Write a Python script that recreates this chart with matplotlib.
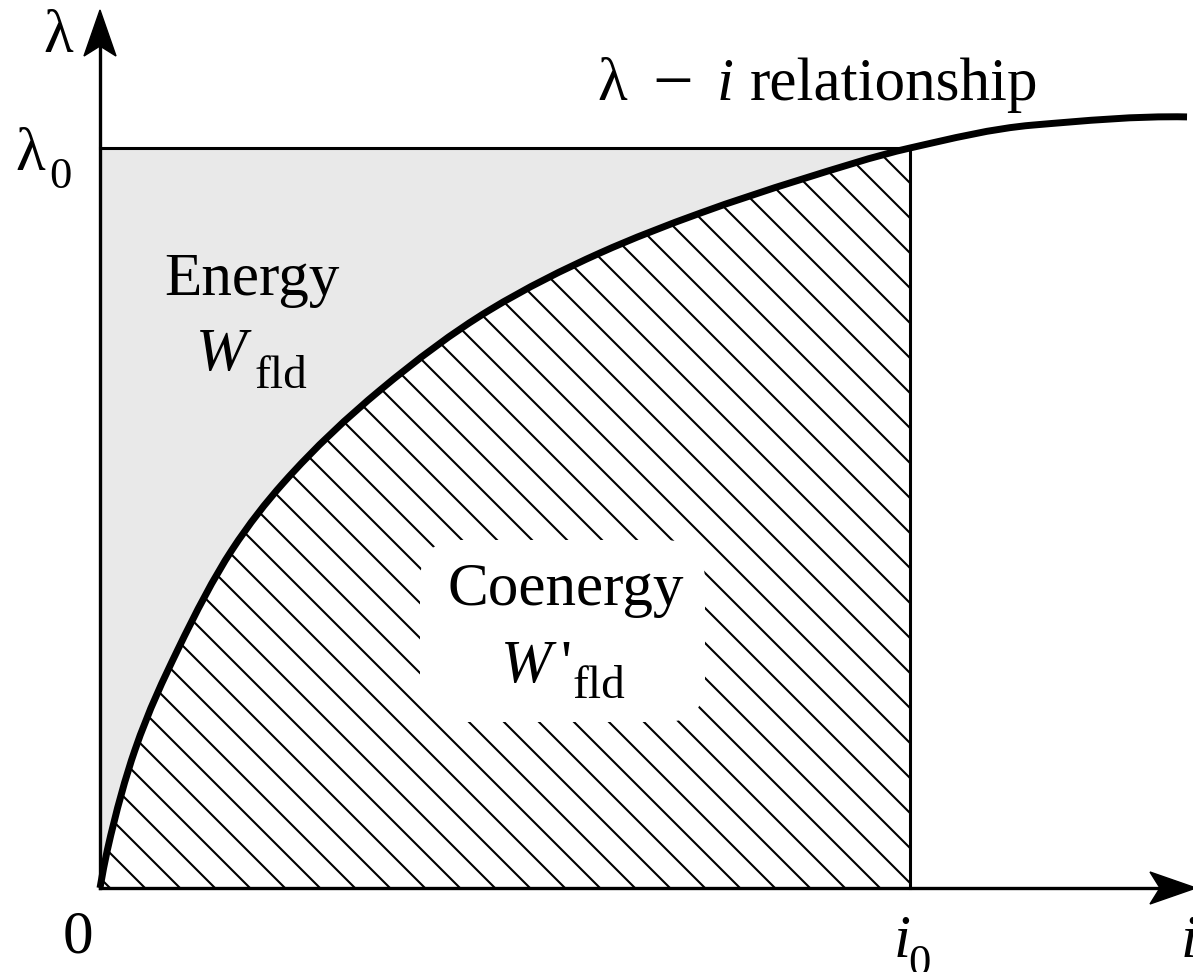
import numpy as np
import matplotlib
matplotlib.use("Agg")
import matplotlib.pyplot as plt
from matplotlib.path import Path
from matplotlib.patches import PathPatch, FancyBboxPatch, Polygon

plt.rcParams["font.family"] = ["Liberation Serif", "DejaVu Serif"]
plt.rcParams["mathtext.fontset"] = "custom"
plt.rcParams["mathtext.rm"] = "Liberation Serif"
plt.rcParams["mathtext.it"] = "Liberation Serif:italic"
plt.rcParams["mathtext.bf"] = "Liberation Serif:bold"

# lambda-i magnetisation curve (i normalised to i0, lambda normalised to lambda0)
curve_i = [0.0, 0.009, 0.043, 0.096, 0.163, 0.226, 0.346, 0.481, 0.617, 0.741, 0.864, 1.0, 1.152, 1.342]
curve_lam = [0.0, 0.051, 0.186, 0.322, 0.457, 0.547, 0.673, 0.781, 0.858, 0.912, 0.957, 1.0, 1.031, 1.042]
i0 = 1.0
lam0 = 1.0

FS = 44      # main text size
FS_SUB = 34  # subscript size

W, H = 1193, 972
X0, Y0 = 100, 888          # origin in pixels
SX, SY = 810.0, 740.0      # pixels per unit of i and lambda

fig = plt.figure(figsize=(W / 100, H / 100), dpi=100)
ax = fig.add_axes([0, 0, 1, 1])
ax.set_xlim(-X0 / SX, (W - X0) / SX)
ax.set_ylim(-(H - Y0) / SY, Y0 / SY)
ax.axis("off")


def px(x, y):
    """Pixel position (from top-left) to data coordinates."""
    return (x - X0) / SX, (Y0 - y) / SY


def smooth_path(xs, ys):
    """Monotone (PCHIP-style) Hermite curve through the points, as Bezier segments."""
    x = np.asarray(xs, float)
    y = np.asarray(ys, float)
    h = np.diff(x)
    d = np.diff(y) / h
    n = len(x)
    m = np.zeros(n)
    for k in range(1, n - 1):
        if d[k - 1] * d[k] <= 0:
            m[k] = 0.0
        else:
            w1 = 2 * h[k] + h[k - 1]
            w2 = h[k] + 2 * h[k - 1]
            m[k] = (w1 + w2) / (w1 / d[k - 1] + w2 / d[k])
    m[0] = ((2 * h[0] + h[1]) * d[0] - h[0] * d[1]) / (h[0] + h[1])
    m[-1] = ((2 * h[-1] + h[-2]) * d[-1] - h[-1] * d[-2]) / (h[-1] + h[-2])
    verts = [(x[0], y[0])]
    codes = [Path.MOVETO]
    for k in range(n - 1):
        t = h[k] / 3.0
        verts += [(x[k] + t, y[k] + m[k] * t),
                  (x[k + 1] - t, y[k + 1] - m[k + 1] * t),
                  (x[k + 1], y[k + 1])]
        codes += [Path.CURVE4] * 3
    return np.array(verts), codes


ci = np.array(curve_i)
cl = np.array(curve_lam)
k0 = int(np.argmin(np.abs(ci - i0)))

# energy region: between curve and the lambda0 line
v_up, c_up = smooth_path(ci[: k0 + 1], cl[: k0 + 1])
energy_verts = np.vstack([v_up, [[0.0, lam0], [0.0, 0.0]]])
energy_codes = c_up + [Path.LINETO, Path.CLOSEPOLY]
ax.add_patch(PathPatch(Path(energy_verts, energy_codes), facecolor="#e9e9e9",
                       edgecolor="none", zorder=1))

# coenergy region: below the curve up to i0, hatched
co_verts = np.vstack([v_up, [[i0, 0.0], [0.0, 0.0]]])
co_codes = c_up + [Path.LINETO, Path.CLOSEPOLY]
clip_patch = PathPatch(Path(co_verts, co_codes), facecolor="none", edgecolor="none",
                       transform=ax.transData)
ax.add_patch(clip_patch)

spacing = 35.0
for c in np.arange(10.0, SX + SY + spacing, spacing):
    # 45-degree line running down to the right: y = c - x (pixel units)
    xp = np.array([c - 800.0, c])
    yp = c - xp
    ln, = ax.plot(xp / SX, yp / SY, color="black", lw=1.5, zorder=2,
                  solid_capstyle="butt")
    ln.set_clip_path(clip_patch)

# white panel behind the coenergy label
bx0, by0 = px(420, 722)
bx1, by1 = px(705, 540)
ax.add_patch(FancyBboxPatch((bx0, by0), bx1 - bx0, by1 - by0,
                            boxstyle="round,pad=0,rounding_size=0.05",
                            facecolor="white", edgecolor="none", zorder=3,
                            mutation_aspect=SX / SY))

# main curve (the part beyond i0 continues with the same smoothing)
v_all, c_all = smooth_path(ci, cl)
ax.add_patch(PathPatch(Path(v_all, c_all), facecolor="none", edgecolor="black",
                       lw=5.0, zorder=5, capstyle="butt"))

# lambda0 and i0 guide lines
ax.plot([0, i0], [lam0, lam0], color="black", lw=2.2, zorder=4)
ax.plot([i0, i0], [0, lam0], color="black", lw=2.2, zorder=4)


# axes with notched arrow heads
def arrow_head(tip, direction, length=46.0, half_width=16.0, notch=10.0):
    tx, ty = tip  # pixels
    dx, dy = direction
    nx, ny = -dy, dx
    base = (tx - dx * length, ty - dy * length)
    inner = (tx - dx * (length - notch), ty - dy * (length - notch))
    pts_px = [tip,
              (base[0] + nx * half_width, base[1] + ny * half_width),
              inner,
              (base[0] - nx * half_width, base[1] - ny * half_width)]
    pts = [px(x, y) for x, y in pts_px]
    ax.add_patch(Polygon(pts, closed=True, facecolor="black", edgecolor="black",
                         lw=1.0, zorder=6))


ytip = (100, 10)
xtip = (1196, 888)
ax.plot(*zip(px(X0, Y0), px(ytip[0], ytip[1] + 30)), color="black", lw=2.4, zorder=6)
ax.plot(*zip(px(X0, Y0), px(xtip[0] - 30, xtip[1])), color="black", lw=2.4, zorder=6)
arrow_head(ytip, (0, -1))
arrow_head(xtip, (1, 0))


def put(x, y, s, size=FS, ha="left", **kw):
    ax.text(*px(x, y), s, fontsize=size, ha=ha, va="baseline", zorder=8, **kw)


# axis labels
put(58, 52, "λ", ha="center")
put(15, 170, "λ")
put(49, 188, "0", size=32)
put(78, 952, "0", ha="center")
put(893, 957, r"$i$")
put(908, 975, "0", size=32)
put(1180, 957, r"$i$")

# curve caption: "λ − i relationship"
put(597, 100, "λ")
put(673, 104, "−", size=52, ha="center")
put(716, 100, r"$i$")
put(750, 100, "relationship")

# energy label
put(252, 295, "Energy", ha="center")
put(253, 370, r"$W$", ha="right")
put(254, 388, "fld", size=FS_SUB)

# coenergy label
put(566, 605, "Coenergy", ha="center")
put(558, 682, r"$W$", ha="right")
put(560, 682, "'")
put(572, 698, "fld", size=FS_SUB)

fig.savefig("out.png", dpi=100)
